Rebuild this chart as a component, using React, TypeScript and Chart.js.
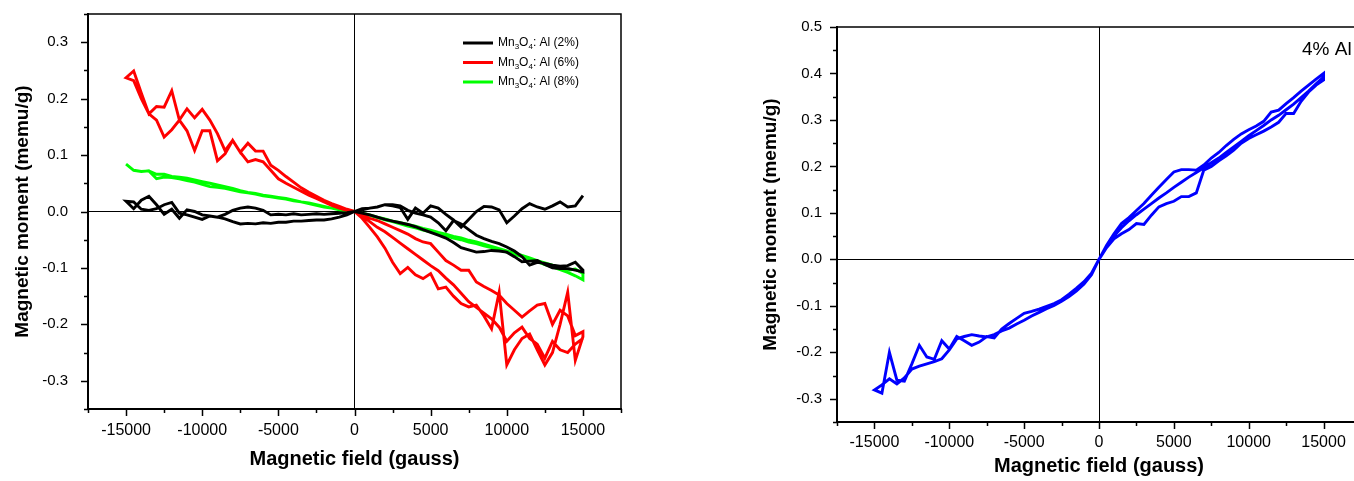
import React, { useEffect, useRef } from 'react';
import { Chart, registerables } from 'chart.js';
Chart.register(...registerables);

const FONT = "'Liberation Sans', Arial, Helvetica, sans-serif";

// ---------- field values (gauss) ----------
const fieldNeg = [-15000, -14500, -14000, -13500, -13000, -12500, -12000, -11500, -11000, -10500, -10000, -9500, -9000, -8500, -8000, -7500, -7000, -6500, -6000, -5500, -5000, -4500, -4000, -3500, -3000, -2500, -2000, -1500, -1000, -500, 0];
const fieldPos = [0, 500, 1000, 1500, 2000, 2500, 3000, 3500, 4000, 4500, 5000, 5500, 6000, 6500, 7000, 7500, 8000, 8500, 9000, 9500, 10000, 10500, 11000, 11500, 12000, 12500, 13000, 13500, 14000, 14500, 15000];

// ---------- left panel: Mn3O4:Al (2%, 6%, 8%) ----------
const seriesLabels = ['2%', '6%', '8%'];
const seriesColors = ['#000000', '#ff0000', '#00ff00'];

const black2Pos1 = [0, 0.005, 0.006, 0.008, 0.012, 0.01, 0.007, -0.014, 0.006, -0.003, 0.01, 0.006, -0.005, -0.015, -0.028, -0.014, 0.0, 0.009, 0.008, 0.003, -0.02, -0.008, 0.005, 0.014, 0.008, 0.004, 0.01, 0.017, 0.008, 0.01, 0.028];
const black2Pos2 = [0, 0.003, 0.006, 0.008, 0.012, 0.012, 0.01, 0.002, -0.003, -0.006, -0.01, -0.02, -0.034, -0.016, -0.022, -0.032, -0.042, -0.048, -0.053, -0.057, -0.063, -0.07, -0.08, -0.095, -0.09, -0.092, -0.095, -0.097, -0.096, -0.09, -0.104];
const black2Pos3 = [0, -0.003, -0.006, -0.01, -0.014, -0.017, -0.02, -0.023, -0.027, -0.032, -0.037, -0.042, -0.047, -0.055, -0.064, -0.068, -0.072, -0.071, -0.069, -0.07, -0.072, -0.08, -0.089, -0.088, -0.087, -0.094, -0.1, -0.101, -0.101, -0.104, -0.107];
const black2NegA = [0.018, 0.005, 0.02, 0.027, 0.012, -0.005, 0.004, -0.012, 0.003, 0.0, -0.006, -0.008, -0.01, -0.005, 0.002, 0.006, 0.008, 0.006, 0.002, -0.006, -0.005, -0.006, -0.004, -0.006, -0.005, -0.004, -0.005, -0.004, -0.003, -0.002, 0];
const black2NegB = [0.018, 0.017, 0.004, 0.002, 0.005, 0.012, 0.016, -0.003, -0.006, -0.01, -0.014, -0.008, -0.01, -0.013, -0.018, -0.022, -0.021, -0.022, -0.02, -0.021, -0.019, -0.019, -0.017, -0.017, -0.016, -0.015, -0.015, -0.013, -0.01, -0.006, 0];

const red6Pos1 = [0, -0.012, -0.028, -0.045, -0.065, -0.09, -0.11, -0.099, -0.112, -0.119, -0.11, -0.137, -0.134, -0.15, -0.163, -0.169, -0.166, -0.185, -0.208, -0.143, -0.272, -0.245, -0.225, -0.217, -0.245, -0.272, -0.25, -0.2, -0.143, -0.264, -0.222];
const red6Pos2 = [0, -0.005, -0.012, -0.016, -0.022, -0.028, -0.034, -0.04, -0.048, -0.054, -0.057, -0.072, -0.087, -0.095, -0.104, -0.104, -0.125, -0.133, -0.14, -0.148, -0.163, -0.175, -0.187, -0.176, -0.166, -0.163, -0.2, -0.175, -0.185, -0.22, -0.213];
const red6Pos3 = [0, -0.008, -0.018, -0.028, -0.036, -0.046, -0.056, -0.066, -0.076, -0.086, -0.096, -0.105, -0.118, -0.13, -0.145, -0.16, -0.17, -0.18, -0.19, -0.205, -0.23, -0.215, -0.205, -0.225, -0.235, -0.26, -0.23, -0.245, -0.25, -0.235, -0.225];
const red6NegA = [0.237, 0.249, 0.21, 0.173, 0.186, 0.185, 0.214, 0.162, 0.182, 0.166, 0.181, 0.162, 0.138, 0.108, 0.126, 0.105, 0.121, 0.107, 0.107, 0.082, 0.073, 0.062, 0.052, 0.042, 0.034, 0.027, 0.02, 0.014, 0.009, 0.004, 0];
const red6NegB = [0.237, 0.232, 0.2, 0.173, 0.162, 0.132, 0.145, 0.162, 0.143, 0.108, 0.143, 0.143, 0.09, 0.102, 0.126, 0.105, 0.088, 0.092, 0.088, 0.073, 0.058, 0.05, 0.043, 0.036, 0.029, 0.023, 0.017, 0.011, 0.006, 0.002, 0];

const green8PosA = [0, -0.003, -0.006, -0.01, -0.013, -0.017, -0.02, -0.023, -0.026, -0.03, -0.033, -0.037, -0.04, -0.044, -0.047, -0.051, -0.054, -0.058, -0.062, -0.066, -0.07, -0.074, -0.078, -0.082, -0.087, -0.091, -0.095, -0.099, -0.104, -0.102, -0.11];
const green8PosB = [0, -0.004, -0.007, -0.011, -0.015, -0.018, -0.022, -0.026, -0.029, -0.033, -0.036, -0.04, -0.043, -0.047, -0.05, -0.054, -0.057, -0.061, -0.064, -0.068, -0.072, -0.076, -0.08, -0.085, -0.089, -0.094, -0.098, -0.103, -0.108, -0.114, -0.121];
const green8NegA = [0.084, 0.073, 0.071, 0.072, 0.066, 0.066, 0.062, 0.061, 0.059, 0.056, 0.053, 0.05, 0.047, 0.044, 0.041, 0.037, 0.034, 0.032, 0.029, 0.027, 0.025, 0.023, 0.02, 0.017, 0.015, 0.012, 0.009, 0.006, 0.004, 0.002, 0];
const green8NegB = [0.084, 0.073, 0.071, 0.072, 0.058, 0.061, 0.06, 0.058, 0.055, 0.052, 0.048, 0.044, 0.043, 0.041, 0.038, 0.035, 0.033, 0.031, 0.028, 0.026, 0.024, 0.022, 0.019, 0.017, 0.014, 0.011, 0.008, 0.006, 0.003, 0.001, 0];

// ---------- right panel: 4% Al ----------
const blue4PosA = [0, 0.03, 0.055, 0.077, 0.09, 0.105, 0.12, 0.138, 0.155, 0.172, 0.188, 0.193, 0.193, 0.192, 0.203, 0.218, 0.23, 0.245, 0.258, 0.27, 0.279, 0.287, 0.297, 0.317, 0.321, 0.335, 0.348, 0.362, 0.375, 0.388, 0.4];
const blue4PosB = [0, 0.025, 0.044, 0.055, 0.064, 0.077, 0.075, 0.095, 0.113, 0.12, 0.125, 0.135, 0.135, 0.143, 0.192, 0.2, 0.212, 0.223, 0.235, 0.25, 0.26, 0.268, 0.276, 0.285, 0.295, 0.314, 0.314, 0.34, 0.36, 0.375, 0.386];
const blue4PosC = [0, 0.028, 0.05, 0.068, 0.083, 0.096, 0.108, 0.12, 0.132, 0.143, 0.155, 0.166, 0.177, 0.187, 0.197, 0.208, 0.218, 0.23, 0.242, 0.254, 0.266, 0.277, 0.288, 0.3, 0.31, 0.322, 0.334, 0.348, 0.362, 0.378, 0.392];
const blue4NegA = [-0.281, -0.288, -0.2, -0.26, -0.262, -0.225, -0.185, -0.21, -0.215, -0.175, -0.193, -0.166, -0.175, -0.185, -0.178, -0.166, -0.169, -0.15, -0.138, -0.127, -0.116, -0.112, -0.107, -0.101, -0.095, -0.087, -0.075, -0.062, -0.048, -0.03, 0];
const blue4NegB = [-0.281, -0.27, -0.257, -0.268, -0.255, -0.236, -0.23, -0.225, -0.22, -0.214, -0.195, -0.171, -0.166, -0.162, -0.165, -0.167, -0.162, -0.154, -0.148, -0.139, -0.131, -0.122, -0.114, -0.106, -0.099, -0.09, -0.08, -0.068, -0.053, -0.033, 0];
const rightLabel = '4% Al';

// ---------- helpers ----------
type Branch = [number[], number[], boolean];
function loop(branches: Branch[]) {
  const pts: { x: number; y: number }[] = [];
  for (const [xs, ys, rev] of branches) {
    const idx = xs.map((_, i) => i);
    if (rev) idx.reverse();
    for (const i of idx) pts.push({ x: xs[i], y: ys[i] });
  }
  return pts;
}

const xTickCb = (v: any) => (Math.abs(v % 5000) < 1e-6 ? String(v) : '');
const yTickCb = (v: any) => {
  const r = Math.round(v * 10);
  return Math.abs(v * 10 - r) < 1e-6 ? (r / 10).toFixed(1) : '';
};
const zeroGrid = (ctx: any) => (ctx.tick && Math.abs(ctx.tick.value) < 1e-9 ? '#000000' : 'rgba(0,0,0,0)');

const axisDecor = {
  id: 'axisDecor',
  afterDraw(chart: any) {
    const { ctx, chartArea: a, scales } = chart;
    const x = scales.x, y = scales.y;
    ctx.save();
    ctx.strokeStyle = '#000';
    ctx.lineWidth = 1.5;
    ctx.beginPath();
    ctx.moveTo(a.left, a.top);
    ctx.lineTo(a.right, a.top);
    ctx.lineTo(a.right, a.bottom);
    ctx.stroke();
    ctx.beginPath();
    x.ticks.forEach((t: any) => {
      const px = Math.round(x.getPixelForValue(t.value)) + 0.5;
      const len = t.label ? 7 : 4;
      ctx.moveTo(px, a.bottom);
      ctx.lineTo(px, a.bottom + len);
    });
    y.ticks.forEach((t: any) => {
      const py = Math.round(y.getPixelForValue(t.value)) + 0.5;
      const len = t.label ? 7 : 4;
      ctx.moveTo(a.left, py);
      ctx.lineTo(a.left - len, py);
    });
    ctx.stroke();
    ctx.restore();
  },
};

const legendPlugin = {
  id: 'subLegend',
  afterDraw(chart: any) {
    const { ctx, chartArea: a } = chart;
    ctx.save();
    chart.data.datasets.forEach((ds: any, i: number) => {
      const x0 = a.left + 375;
      const yy = a.top + 29 + i * 19.5;
      ctx.strokeStyle = ds.borderColor;
      ctx.lineWidth = 3;
      ctx.beginPath();
      ctx.moveTo(x0, yy);
      ctx.lineTo(x0 + 30, yy);
      ctx.stroke();
      ctx.fillStyle = '#000';
      ctx.textBaseline = 'middle';
      let tx = x0 + 35;
      const big = `12px ${FONT}`;
      const small = `8px ${FONT}`;
      const parts: [string, boolean][] = [['Mn', false], ['3', true], ['O', false], ['4', true], [`: Al (${ds.label})`, false]];
      for (const [s, sub] of parts) {
        ctx.font = sub ? small : big;
        ctx.fillText(s, tx, sub ? yy + 4 : yy);
        tx += ctx.measureText(s).width;
      }
    });
    ctx.restore();
  },
};

const cornerLabel = {
  id: 'cornerLabel',
  afterDraw(chart: any) {
    const { ctx, chartArea: a } = chart;
    ctx.save();
    ctx.fillStyle = '#000';
    ctx.font = `19px ${FONT}`;
    ctx.textBaseline = 'middle';
    ctx.fillText(rightLabel, a.left + 465, a.top + 23);
    ctx.restore();
  },
};

function makeOptions(cfg: { ymin: number; ymax: number; yWidth: number; xHeight: number; padTop: number; padRight: number; yTitlePad: number; xTitlePad: number; yTickPad: number; xTickPad: number }) {
  return {
    responsive: false,
    animation: false as const,
    layout: { padding: { top: cfg.padTop, right: cfg.padRight, left: 0, bottom: 0 } },
    plugins: { legend: { display: false }, tooltip: { enabled: false } },
    elements: { point: { radius: 0 }, line: { tension: 0 } },
    scales: {
      x: {
        type: 'linear' as const,
        position: 'bottom' as const,
        min: -17500,
        max: 17500,
        ticks: { stepSize: 2500, autoSkip: false, maxRotation: 0, padding: cfg.xTickPad, color: '#000', font: { family: FONT, size: 16 }, callback: xTickCb },
        grid: { drawTicks: false, lineWidth: 1, color: zeroGrid },
        border: { display: true, color: '#000', width: 2 },
        title: { display: true, text: 'Magnetic field (gauss)', color: '#000', font: { family: FONT, size: 20, weight: 'bold' as const }, padding: { top: 0, bottom: cfg.xTitlePad } },
        afterFit: (s: any) => { s.height = cfg.xHeight; s.paddingLeft = 0; s.paddingRight = 0; s.paddingTop = 0; s.paddingBottom = 0; },
      },
      y: {
        type: 'linear' as const,
        position: 'left' as const,
        min: cfg.ymin,
        max: cfg.ymax,
        ticks: { stepSize: 0.05, autoSkip: false, padding: cfg.yTickPad, color: '#000', font: { family: FONT, size: 15 }, callback: yTickCb },
        grid: { drawTicks: false, lineWidth: 1, color: zeroGrid },
        border: { display: true, color: '#000', width: 2 },
        title: { display: true, text: 'Magnetic moment (memu/g)', color: '#000', font: { family: FONT, size: 19, weight: 'bold' as const }, padding: { top: cfg.yTitlePad, bottom: 0 } },
        afterFit: (s: any) => { s.width = cfg.yWidth; s.paddingTop = 0; s.paddingBottom = 0; s.paddingLeft = 0; s.paddingRight = 0; },
      },
    },
  };
}

export default function App() {
  const leftRef = useRef<HTMLCanvasElement>(null);
  const rightRef = useRef<HTMLCanvasElement>(null);

  useEffect(() => {
    const lineDs = (label: string, color: string, data: any[]) => ({
      label, data, borderColor: color, backgroundColor: color, borderWidth: 2.9, showLine: true, pointRadius: 0, fill: false,
    });

    const left = new Chart(leftRef.current as HTMLCanvasElement, {
      type: 'scatter',
      data: {
        datasets: [
          lineDs(seriesLabels[0], seriesColors[0], loop([[fieldPos, black2Pos3, false], [fieldPos, black2Pos2, true], [fieldNeg, black2NegA, true], [fieldNeg, black2NegB, false], [fieldPos, black2Pos1, false]])),
          lineDs(seriesLabels[1], seriesColors[1], loop([[fieldPos, red6Pos1, false], [fieldPos, red6Pos2, true], [fieldNeg, red6NegA, true], [fieldNeg, red6NegB, false], [fieldPos, red6Pos3, false]])),
          lineDs(seriesLabels[2], seriesColors[2], loop([[fieldPos, green8PosB, false], [fieldPos, green8PosA, true], [fieldNeg, green8NegA, true], [fieldNeg, green8NegB, false]])),
        ],
      },
      options: makeOptions({ ymin: -0.35, ymax: 0.35, yWidth: 88, xHeight: 72, padTop: 14, padRight: 39, yTitlePad: 11, xTitlePad: 10, yTickPad: 20, xTickPad: 12 }) as any,
      plugins: [axisDecor, legendPlugin],
    });

    const right = new Chart(rightRef.current as HTMLCanvasElement, {
      type: 'scatter',
      data: {
        datasets: [
          lineDs(rightLabel, '#0000ff', loop([[fieldPos, blue4PosA, false], [fieldPos, blue4PosB, true], [fieldNeg, blue4NegA, true], [fieldNeg, blue4NegB, false], [fieldPos, blue4PosC, false]])),
        ],
      },
      options: makeOptions({ ymin: -0.35, ymax: 0.5, yWidth: 92, xHeight: 59, padTop: 27, padRight: 19, yTitlePad: 14, xTitlePad: 3, yTickPad: 15, xTickPad: 11 }) as any,
      plugins: [axisDecor, cornerLabel],
    });

    return () => {
      left.destroy();
      right.destroy();
    };
  }, []);

  return (
    <div style={{ position: 'fixed', left: 0, top: 0, width: 1354, height: 481, overflow: 'hidden', background: '#fff' }}>
      <canvas ref={leftRef} width={660} height={481} style={{ position: 'absolute', left: 0, top: 0, width: 660, height: 481 }} />
      <canvas ref={rightRef} width={635} height={481} style={{ position: 'absolute', left: 745, top: 0, width: 635, height: 481 }} />
    </div>
  );
}
